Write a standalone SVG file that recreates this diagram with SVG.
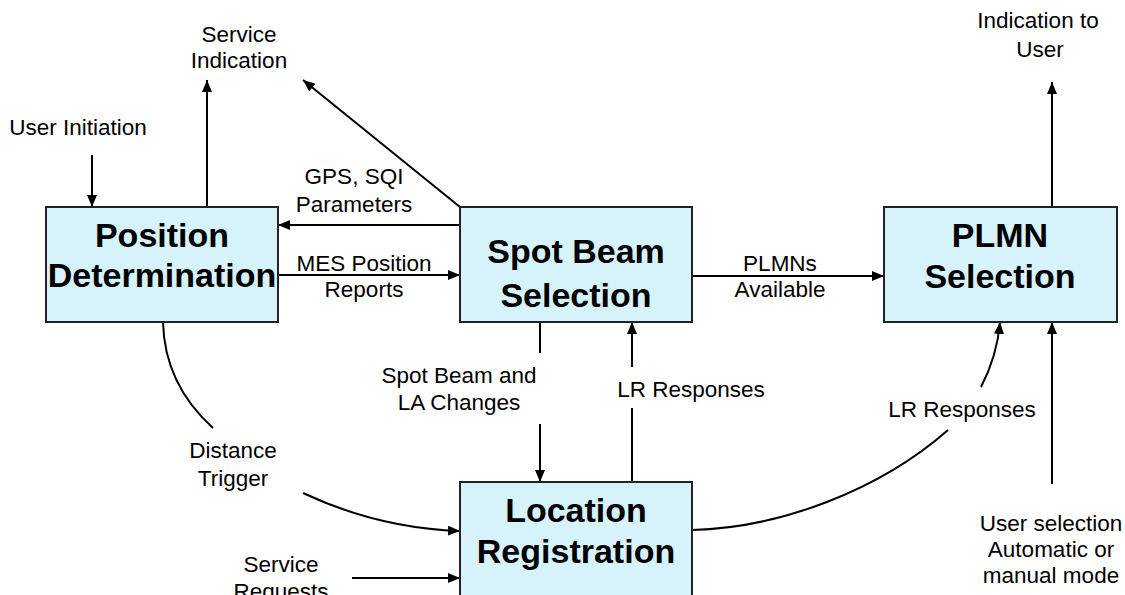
<svg xmlns="http://www.w3.org/2000/svg" width="1125" height="595" viewBox="0 0 1125 595">
<defs>
<marker id="ah" markerUnits="userSpaceOnUse" markerWidth="12" markerHeight="10" refX="12" refY="5" orient="auto">
<path d="M0,0 L12,5 L0,10 z" fill="#000"/>
</marker>
<style>
.box{fill:#d6f3fc;stroke:#222;stroke-width:2}
.bt{font-family:"Liberation Sans",Arial,sans-serif;font-weight:bold;font-size:34px;text-anchor:middle;fill:#000}
.lb{font-family:"Liberation Sans",Arial,sans-serif;font-size:22.5px;text-anchor:middle;fill:#000}
.ln{fill:none;stroke:#000;stroke-width:2}
</style>
</defs>
<rect width="1125" height="595" fill="#fff"/>
<g id="connectors">
<path class="ln" d="M92,155 L92,207" marker-end="url(#ah)"/>
<path class="ln" d="M207,207 L207,80" marker-end="url(#ah)"/>
<path class="ln" d="M460,207 L303,80" marker-end="url(#ah)"/>
<path class="ln" d="M460,225 L278,225" marker-end="url(#ah)"/>
<path class="ln" d="M278,275 L460,275" marker-end="url(#ah)"/>
<path class="ln" d="M692,276 L884,276" marker-end="url(#ah)"/>
<path class="ln" d="M1052,207 L1052,82" marker-end="url(#ah)"/>
<path class="ln" d="M540,322 L540,353"/>
<path class="ln" d="M540,424 L540,482" marker-end="url(#ah)"/>
<path class="ln" d="M632,482 L632,408"/>
<path class="ln" d="M632,367 L632,322" marker-end="url(#ah)"/>
<path class="ln" d="M163,322 C164,365 182,400 213,428"/>
<path class="ln" d="M303,493 C350,515 400,529 460,531" marker-end="url(#ah)"/>
<path class="ln" d="M352,578 L460,578" marker-end="url(#ah)"/>
<path class="ln" d="M692,530 C780,528 880,490 948,430"/>
<path class="ln" d="M981,387 C992,366 998,346 1000,322" marker-end="url(#ah)"/>
<path class="ln" d="M1052,484 L1052,322" marker-end="url(#ah)"/>
</g>
<g id="position-determination">
<rect class="box" x="46" y="207" width="232" height="115"/>
<text class="bt" x="162" y="247">Position</text>
<text class="bt" x="162" y="287">Determination</text>
</g>
<g id="spot-beam-selection">
<rect class="box" x="460" y="207" width="232" height="115"/>
<text class="bt" x="576" y="263">Spot Beam</text>
<text class="bt" x="576" y="307">Selection</text>
</g>
<g id="plmn-selection">
<rect class="box" x="884" y="207" width="233" height="115"/>
<text class="bt" x="1000" y="247">PLMN</text>
<text class="bt" x="1000" y="288">Selection</text>
</g>
<g id="location-registration">
<rect class="box" x="460" y="482" width="232" height="125"/>
<text class="bt" x="576" y="522">Location</text>
<text class="bt" x="576" y="563">Registration</text>
</g>
<g id="labels">
<text class="lb" x="78" y="135">User Initiation</text>
<text class="lb" x="239" y="42">Service</text>
<text class="lb" x="239" y="68">Indication</text>
<text class="lb" x="354" y="184">GPS, SQI</text>
<text class="lb" x="354" y="212">Parameters</text>
<text class="lb" x="364" y="271">MES Position</text>
<text class="lb" x="364" y="297">Reports</text>
<text class="lb" x="780" y="271">PLMNs</text>
<text class="lb" x="780" y="297">Available</text>
<text class="lb" x="1038" y="28">Indication to</text>
<text class="lb" x="1040" y="57">User</text>
<text class="lb" x="459" y="383">Spot Beam and</text>
<text class="lb" x="459" y="410">LA Changes</text>
<text class="lb" x="691" y="397">LR Responses</text>
<text class="lb" x="962" y="417">LR Responses</text>
<text class="lb" x="233" y="458">Distance</text>
<text class="lb" x="233" y="486">Trigger</text>
<text class="lb" x="281" y="572">Service</text>
<text class="lb" x="281" y="599">Requests</text>
<text class="lb" x="1051" y="531">User selection</text>
<text class="lb" x="1051" y="557">Automatic or</text>
<text class="lb" x="1051" y="583">manual mode</text>
</g>
</svg>
